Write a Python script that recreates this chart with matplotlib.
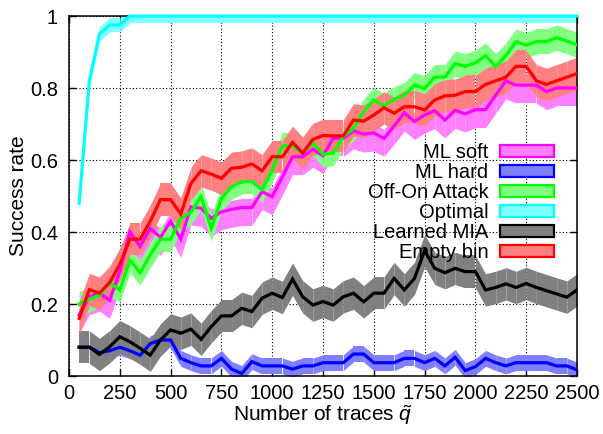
import numpy as np
import matplotlib
matplotlib.use("Agg")
import matplotlib.pyplot as plt
from matplotlib.patches import Rectangle

plt.rcParams['font.family'] = ['Liberation Sans', 'DejaVu Sans']
plt.rcParams['mathtext.fontset'] = 'custom'
plt.rcParams['mathtext.rm'] = 'Liberation Sans'
plt.rcParams['mathtext.it'] = 'Liberation Sans:italic'

# number of traces, 50 .. 2500
traces = list(range(50, 2501, 50))

ml_soft = [0.17, 0.22, 0.23, 0.21, 0.29, 0.40, 0.36, 0.41, 0.385, 0.43,
           0.38, 0.47, 0.466, 0.438, 0.456, 0.463, 0.468, 0.468, 0.512, 0.498,
           0.553, 0.609, 0.609, 0.63, 0.612, 0.66, 0.66, 0.681, 0.672, 0.675,
           0.66, 0.694, 0.731, 0.707, 0.725, 0.737, 0.711, 0.738, 0.728, 0.74,
           0.74, 0.78, 0.82, 0.808, 0.808, 0.808, 0.79, 0.80, 0.80, 0.80]
ml_hard = [0.08, 0.08, 0.065, 0.07, 0.08, 0.07, 0.058, 0.09, 0.10, 0.10,
           0.049, 0.037, 0.028, 0.028, 0.049, 0.019, 0.007, 0.04, 0.028, 0.028,
           0.028, 0.019, 0.028, 0.028, 0.037, 0.037, 0.037, 0.061, 0.061, 0.037,
           0.037, 0.037, 0.049, 0.049, 0.037, 0.049, 0.028, 0.052, 0.015, 0.026,
           0.049, 0.037, 0.028, 0.037, 0.037, 0.037, 0.037, 0.028, 0.028, 0.017]
off_on = [0.20, 0.213, 0.225, 0.259, 0.239, 0.322, 0.287, 0.336, 0.38, 0.38,
          0.438, 0.455, 0.498, 0.41, 0.493, 0.526, 0.54, 0.54, 0.518, 0.572,
          0.639, 0.639, 0.619, 0.648, 0.616, 0.619, 0.665, 0.688, 0.734, 0.767,
          0.75, 0.769, 0.78, 0.808, 0.799, 0.83, 0.83, 0.868, 0.86, 0.87,
          0.89, 0.86, 0.89, 0.929, 0.919, 0.929, 0.929, 0.94, 0.93, 0.92]
optimal = [0.48, 0.82, 0.95, 0.975, 0.975, 1.0, 1.0, 1.0, 1.0, 1.0,
           1.0, 1.0, 1.0, 1.0, 1.0, 1.0, 1.0, 1.0, 1.0, 1.0,
           1.0, 1.0, 1.0, 1.0, 1.0, 1.0, 1.0, 1.0, 1.0, 1.0,
           1.0, 1.0, 1.0, 1.0, 1.0, 1.0, 1.0, 1.0, 1.0, 1.0,
           1.0, 1.0, 1.0, 1.0, 1.0, 1.0, 1.0, 1.0, 1.0, 1.0]
learned_mia = [0.08, 0.08, 0.06, 0.081, 0.109, 0.095, 0.077, 0.058, 0.10, 0.128,
               0.119, 0.13, 0.102, 0.137, 0.167, 0.167, 0.188, 0.179, 0.216, 0.23,
               0.218, 0.269, 0.22, 0.197, 0.207, 0.197, 0.22, 0.23, 0.206, 0.23,
               0.23, 0.271, 0.239, 0.271, 0.348, 0.299, 0.287, 0.299, 0.29, 0.29,
               0.239, 0.246, 0.256, 0.246, 0.257, 0.246, 0.237, 0.228, 0.219, 0.239]
empty_bin = [0.16, 0.24, 0.23, 0.26, 0.31, 0.38, 0.38, 0.43, 0.49, 0.49,
             0.45, 0.535, 0.57, 0.561, 0.549, 0.577, 0.58, 0.589, 0.57, 0.609,
             0.609, 0.649, 0.619, 0.657, 0.668, 0.667, 0.667, 0.711, 0.708, 0.725,
             0.745, 0.73, 0.748, 0.748, 0.739, 0.767, 0.778, 0.78, 0.79, 0.79,
             0.81, 0.82, 0.83, 0.86, 0.86, 0.82, 0.81, 0.82, 0.83, 0.84]

labels = ["ML soft", "ML hard", "Off-On Attack", "Optimal", "Learned MIA", "Empty bin"]
line_colors = ["#ff00ff", "#0000ff", "#00ff00", "#00ffff", "#000000", "#ff0000"]
band_colors = ["#ff80ff", "#8080ff", "#80ff80", "#80ffff", "#808080", "#ff8080"]
# spread of each curve (below, above)
band_lo = [0.05, 0.022, 0.035, 0.02, 0.045, 0.045]
band_hi = [0.025, 0.022, 0.035, 0.02, 0.045, 0.045]

series = [ml_soft, ml_hard, off_on, optimal, learned_mia, empty_bin]

fig = plt.figure(figsize=(6.03, 4.34), dpi=100)
ax = fig.add_axes([69 / 603, 1 - 376 / 434, 508 / 603, 360 / 434])

x = np.array(traces)
for k, ys in enumerate(series):
    y = np.array(ys)
    lo = y - band_lo[k]
    hi = y + band_hi[k]
    # fill segment by segment, gives the thin seams between samples
    for i in range(len(x) - 1):
        ax.fill_between(x[i:i + 2], lo[i:i + 2], hi[i:i + 2],
                        color=band_colors[k], lw=0, zorder=1 + k * 0.1)

for k, ys in enumerate(series):
    ax.plot(x, ys, color=line_colors[k], lw=2.3, zorder=5,
            clip_on=(labels[k] != "Optimal"), solid_joinstyle='miter')

ax.set_xlim(0, 2500)
ax.set_ylim(0, 1)
ax.set_xticks(range(0, 2501, 250))
ax.set_yticks([0, 0.2, 0.4, 0.6, 0.8, 1.0])
ax.set_yticklabels(["0", "0.2", "0.4", "0.6", "0.8", "1"])
ax.grid(True, color='black', linestyle=(0, (1, 2)), linewidth=0.8, zorder=0)
ax.set_axisbelow(True)
ax.tick_params(direction='in', top=True, right=True, length=5, width=1,
               labelsize=14.5)
ax.tick_params(axis='y', pad=8)
ax.tick_params(axis='x', pad=6)
for sp in ax.spines.values():
    sp.set_linewidth(1.1)
    sp.set_zorder(4)

ax.set_xlabel(r"Number of traces $\tilde{q}$", fontsize=15, labelpad=0)
ax.set_ylabel("Success rate", fontsize=15, labelpad=1)

handles = [Rectangle((0, 0), 1, 1, facecolor=band_colors[k],
                     edgecolor=line_colors[k], linewidth=1.6)
           for k in range(len(labels))]
ax.legend(handles, labels, loc='upper right', frameon=False,
          markerfirst=False, fontsize=14.5,
          bbox_to_anchor=(554 / 603, 1 - 143 / 434),
          bbox_transform=fig.transFigure, borderaxespad=0, borderpad=0,
          handlelength=2.7, handleheight=0.58, handletextpad=0.55,
          labelspacing=0.05)

fig.savefig("out.png", dpi=100)
